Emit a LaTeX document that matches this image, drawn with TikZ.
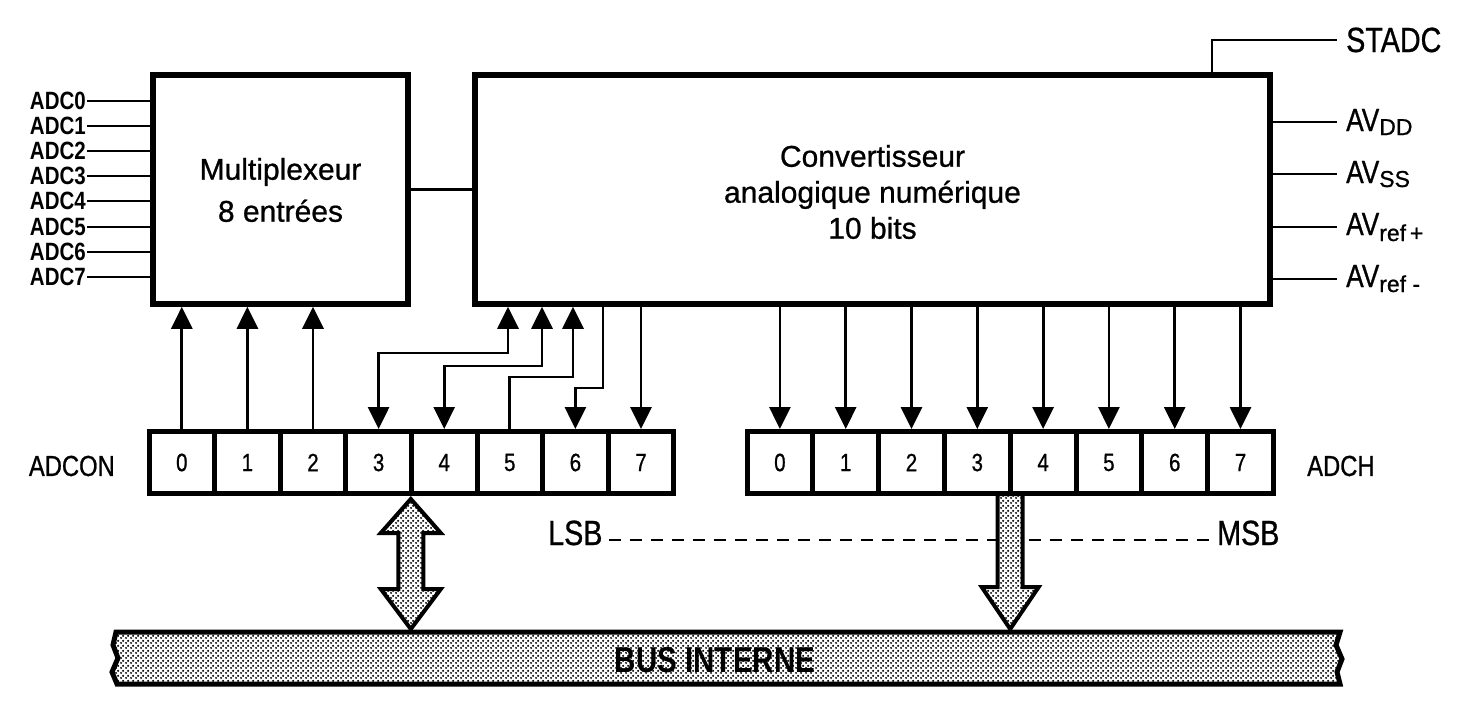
\documentclass[tikz,border=0pt]{standalone}
\usepackage{fontspec}
\setmainfont{Liberation Sans}[UprightFeatures={FakeBold=0.8}]
\newfontfamily\cond{Liberation Sans}[FakeStretch=0.82,UprightFeatures={FakeBold=0.8}]
\newfontfamily\plainsub{Liberation Sans}[UprightFeatures={FakeBold=0.8}]
\newcommand\mysubf{\plainsub\fontsize{23}{23}\selectfont}
\usetikzlibrary{arrows.meta,patterns.meta}
\tikzdeclarepattern{
  name=busdots,
  type=uncolored,
  bottom left={(0pt,0pt)},
  top right={(5pt,5pt)},
  tile size={(5pt,5pt)},
  code={\pgfpathcircle{\pgfpoint{1.25pt}{1.25pt}}{1.3pt}%
        \pgfpathcircle{\pgfpoint{3.75pt}{3.75pt}}{1.3pt}%
        \pgfusepath{fill}}
}
\begin{document}
\begin{tikzpicture}[x=1pt,y=-1pt,
  box/.style={draw, line width=5.5pt, minimum width=#1, minimum height=229pt, inner sep=0pt},
  boxtext/.style={align=center, inner sep=0pt},
  cell/.style={draw, line width=5pt, minimum width=65.6pt, minimum height=62pt, inner sep=0pt,
               font=\cond\fontsize{25}{25}\selectfont},
  hcell/.style={cell, minimum width=65.8pt},
  lbl/.style={inner sep=0pt, font=\cond\fontsize{29}{29}\selectfont},
  rlbl/.style={inner sep=0pt, anchor=base west, font=\cond\fontsize{32}{32}\selectfont},
  adcl/.style={inner sep=1pt, anchor=east, font=\cond\bfseries\fontsize{25}{25}\selectfont},
  wire/.style={line width=2.8pt},
  arr/.style={wire, -{Triangle[width=21pt,length=22pt]}},
  biarr/.style={wire, {Triangle[width=21pt,length=22pt]}-{Triangle[width=21pt,length=22pt]}},
  fat/.style={line width=4pt, line join=miter, preaction={fill=white}, pattern=busdots, pattern color=black},
  dashline/.style={line width=2.8pt, dash pattern=on 12pt off 9pt}
]
\useasboundingbox (0,0) rectangle (1464,718);

% main blocks
\node[box=255pt] (mux) at (280.5,189.5) {};
\node[box=795pt] (conv) at (872.5,189.5) {};
\node[boxtext, font=\fontsize{30}{42}\selectfont] (muxt) at (280.5,190) {Multiplexeur\\8 entrées};
\node[boxtext, font=\fontsize{30}{36}\selectfont] (convt) at (872.5,192) {Convertisseur\\analogique numérique\\10 bits};
\draw[wire] (mux.east) -- (conv.west);

% analog inputs
\foreach \i/\y in {0/101,1/126,2/151,3/176,4/201,5/227,6/252,7/277}{
  \node[adcl] (adc\i) at (87,\y) {ADC\i};
  \draw[wire] (adc\i.east) -- (adc\i.east -| mux.west);
}

% right side signals
\coordinate (stadcend) at (1337,40);
\draw[wire] (conv.north -| 1212,0) |- (stadcend);
\node[rlbl, font=\cond\fontsize{35}{35}\selectfont] (stadc) at (1346,52) {STADC};
\coordinate (avdd) at (1337,122);
\coordinate (avss) at (1337,174);
\coordinate (avrp) at (1337,227);
\coordinate (avrm) at (1337,279);
\foreach \c in {avdd,avss,avrp,avrm}{\draw[wire] (\c -| conv.east) -- (\c);}
\node[rlbl] (avddt) at (1346,131) {AV\raisebox{-4pt}{\mysubf DD}};
\node[rlbl] (avsst) at (1346,183) {AV\raisebox{-4pt}{\mysubf SS}};
\node[rlbl] (avrpt) at (1346,235) {AV\raisebox{-6pt}{\mysubf ref\,+}};
\node[rlbl] (avrmt) at (1346,287) {AV\raisebox{-5pt}{\mysubf ref -}};

% registers
\foreach \i in {0,...,7}{
  \node[cell] (c\i) at ({149+65.6*(\i+0.5)},462.5) {\raisebox{-4pt}{\i}};
  \node[hcell] (h\i) at ({747+65.8*(\i+0.5)},462.5) {\raisebox{-4pt}{\i}};
}
\node[lbl, anchor=east] (adcon) at (115,466) {ADCON};
\node[lbl, anchor=west] (adch) at (1307,466) {ADCH};

% control connections ADCON <-> multiplexer / converter
\foreach \i in {0,1,2}{\draw[arr] (c\i.north) -- (c\i.north |- mux.south);}
\draw[biarr] (c3.north) |- (508,353) -- (508,0 |- conv.south);
\draw[biarr] (c4.north) |- (542,366) -- (542,0 |- conv.south);
\draw[arr] (c5.north) |- (573,377) -- (573,0 |- conv.south);
\draw[arr] (603,0 |- conv.south) -- (603,388) -| (c6.north);
\draw[arr] (c7.north |- conv.south) -- (c7.north);

% result bits to ADCH
\foreach \i in {0,...,7}{\draw[arr] (h\i.north |- conv.south) -- (h\i.north);}

% LSB ... MSB
\node[rlbl, font=\cond\fontsize{35}{35}\selectfont] (lsb) at (548,545) {LSB};
\node[rlbl, font=\cond\fontsize{35}{35}\selectfont] (msb) at (1217,545) {MSB};
\draw[dashline] ([xshift=6pt,yshift=5pt]lsb.base east) -- ([xshift=-8pt,yshift=5pt]msb.base west);

% internal bus
\draw[fat, line width=5pt] (116,632) -- (1340,632) -- (1336,645) -- (1342,659) -- (1337,672) -- (1340,684)
   -- (117,684) -- (112,672) -- (118,658) -- (113,645) -- cycle;
\node[inner sep=0pt, font=\cond\bfseries\fontsize{36}{36}\selectfont] (bus) at (715,660) {BUS INTERNE};

% fat bus arrows
\draw[fat] (410.8,499) -- (440.8,533) -- (423.3,533) -- (423.3,589) -- (440.8,589) -- (410.8,629)
   -- (380.8,589) -- (398.3,589) -- (398.3,533) -- (380.8,533) -- cycle;
\draw[fat] (997.7,494) -- (1022.7,494) -- (1022.7,587) -- (1038.7,587) -- (1010.2,629)
   -- (981.7,587) -- (997.7,587) -- cycle;
\end{tikzpicture}
\end{document}
